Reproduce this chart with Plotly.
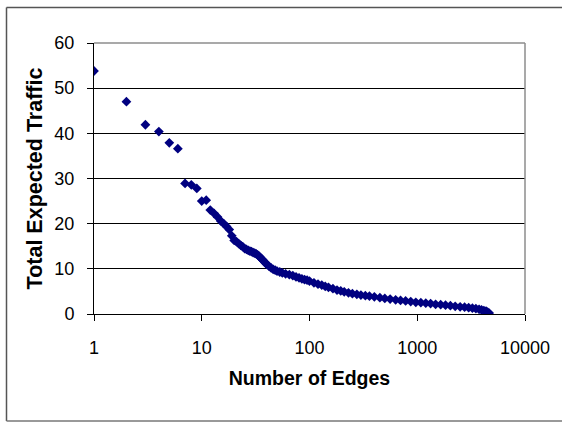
import plotly.graph_objects as go

# Rank (number of edges) and total expected traffic
edges = [1, 2, 3, 4, 5, 6, 7, 8, 9, 10, 11,
         12, 13, 14, 15, 16, 17, 18, 19, 20, 21, 22, 23, 24, 25, 26, 27, 28, 29, 30,
         31, 32, 33, 34, 35, 36, 37, 38, 39, 40, 42, 44, 46, 48, 50, 53, 56, 60,
         65, 70, 75, 80, 85, 90, 95, 100, 110, 120, 130, 140, 150, 165, 180, 195,
         210, 230, 250, 275, 300, 330, 360, 400, 450, 500, 560, 630, 700, 780, 870,
         970, 1080, 1200, 1330, 1480, 1650, 1830, 2030, 2250, 2500, 2750, 3000,
         3250, 3500, 3750, 3950, 4150, 4350, 4500, 4650]
traffic = [53.8, 47.0, 41.9, 40.4, 37.9, 36.6, 28.9, 28.6, 27.8, 25.0, 25.2,
           23.0, 22.3, 21.5, 20.6, 20.0, 19.4, 18.7, 17.3, 16.3, 16.0, 15.6, 15.2, 14.9, 14.5, 14.3, 14.1, 13.9, 13.8, 13.6,
           13.5, 13.3, 13.1, 12.8, 12.5, 12.2, 11.9, 11.6, 11.3, 11.0, 10.6, 10.2, 9.9, 9.7, 9.5, 9.3, 9.1, 8.9,
           8.7, 8.5, 8.2, 8.0, 7.8, 7.6, 7.5, 7.3, 6.9, 6.6, 6.4, 6.1, 5.9, 5.6, 5.3, 5.1,
           4.9, 4.7, 4.5, 4.35, 4.2, 4.05, 3.95, 3.8, 3.6, 3.45, 3.3, 3.15, 3.0, 2.9, 2.75,
           2.6, 2.5, 2.4, 2.3, 2.15, 2.05, 1.95, 1.85, 1.7, 1.6, 1.5, 1.4,
           1.3, 1.2, 1.05, 0.9, 0.75, 0.65, 0.4, 0.2]

x_tick_vals = [1, 10, 100, 1000, 10000]
x_tick_text = ["1", "10", "100", "1000", "10000"]
y_tick_vals = [0, 10, 20, 30, 40, 50, 60]

FONT = "Liberation Sans, Arial, sans-serif"

ML, MR, MT, MB = 94, 38, 43, 109
W, H = 563, 423
PW, PH = W - ML - MR, H - MT - MB

def px(x):  # figure pixel x -> paper
    return (x - ML) / PW

def py(y):  # figure pixel y -> paper
    return (H - MB - y) / PH

fig = go.Figure()
fig.add_trace(go.Scatter(
    x=edges, y=traffic, mode="markers",
    marker=dict(symbol="diamond", size=7.5, color="#000080", line=dict(width=0)),
    showlegend=False, hoverinfo="skip",
))

fig.update_layout(
    width=W, height=H,
    margin=dict(l=ML, r=MR, t=MT, b=MB),
    paper_bgcolor="white", plot_bgcolor="white",
    font=dict(family=FONT, color="black"),
    hovermode=False,
    xaxis=dict(
        type="log", range=[0, 4],
        tickvals=x_tick_vals, ticktext=x_tick_text,
        showgrid=False, zeroline=False,
        showline=True, linecolor="black", linewidth=1,
        ticks="outside", ticklen=6, tickcolor="black", tickwidth=1,
        tickfont=dict(size=18, family=FONT, color="black"),
        ticklabelstandoff=11,
        title=dict(text="<b>Number of Edges</b>", font=dict(size=19.5, family=FONT, color="black"), standoff=14),
    ),
    yaxis=dict(
        range=[0, 60], tickvals=y_tick_vals,
        showgrid=True, gridcolor="black", gridwidth=1,
        zeroline=False,
        showline=True, linecolor="black", linewidth=1,
        ticks="outside", ticklen=6, tickcolor="black", tickwidth=1,
        tickfont=dict(size=18, family=FONT, color="black"),
        ticklabelstandoff=9,
        title=dict(text="<b>Total Expected Traffic</b>", font=dict(size=21.5, family=FONT, color="black"), standoff=5),
    ),
    shapes=[
        # plot-area frame (top and right) in grey
        dict(type="line", xref="paper", yref="paper", x0=0, x1=1, y0=1, y1=1,
             line=dict(color="#8c8c8c", width=1.5), layer="above"),
        dict(type="line", xref="paper", yref="paper", x0=1, x1=1, y0=0, y1=1,
             line=dict(color="#8c8c8c", width=1.5), layer="above"),
        # outer chart border
        dict(type="line", xref="paper", yref="paper", x0=px(6.5), x1=px(W - 1), y0=py(7.5), y1=py(7.5),
             line=dict(color="#555555", width=1.5), layer="above"),
        dict(type="line", xref="paper", yref="paper", x0=px(6.5), x1=px(6.5), y0=py(421), y1=py(7.5),
             line=dict(color="#555555", width=1.5), layer="above"),
        dict(type="line", xref="paper", yref="paper", x0=px(6.5), x1=px(W - 1), y0=py(421), y1=py(421),
             line=dict(color="#777777", width=1.5), layer="above"),
    ],
)

fig.write_html(
    "out.html",
    config={"displayModeBar": False},
    post_script="document.body.style.margin='0';document.documentElement.style.overflow='hidden';document.body.style.overflow='hidden';",
)
